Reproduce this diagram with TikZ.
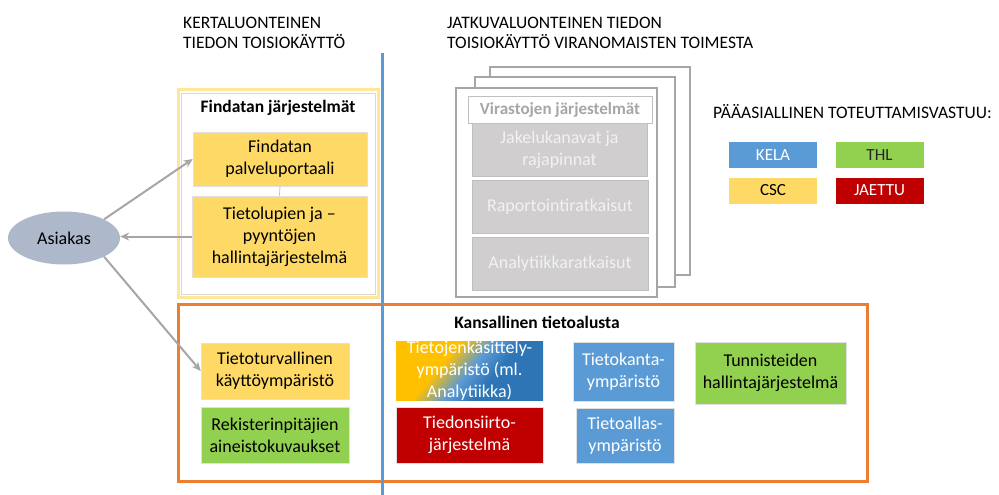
\documentclass[tikz,border=0pt]{standalone}
\usepackage{fontspec}
\setmainfont{Carlito}
\usetikzlibrary{shapes.geometric,arrows.meta}

\definecolor{cscyellow}{HTML}{FFD966}
\definecolor{thlgreen}{HTML}{92D050}
\definecolor{kelablue}{HTML}{5B9BD5}
\definecolor{jaettured}{HTML}{C00000}
\definecolor{frameorange}{HTML}{ED7D31}
\definecolor{arrowgray}{HTML}{A6A6A6}
\definecolor{clientblue}{HTML}{ADB9CA}
\definecolor{paleyellow}{HTML}{FFE699}
\definecolor{agencygray}{HTML}{D0CECE}
\definecolor{agencyline}{HTML}{BFBFBF}
\definecolor{darkblue}{HTML}{2E75B6}
\definecolor{goldyellow}{HTML}{FFC000}

% yellow-to-blue blend for the shared processing environment
\pgfdeclarehorizontalshading{yellowblue}{100bp}{%
  color(0bp)=(goldyellow); color(38bp)=(goldyellow);
  color(50bp)=(kelablue); color(60bp)=(darkblue); color(100bp)=(darkblue)}

\tikzset{
  base/.style={inner sep=0pt, align=center, font=\fontsize{18}{22}\selectfont,
               draw=black!12, line width=0.6pt},
  csc/.style={base, fill=cscyellow, text=black},
  thl/.style={base, fill=thlgreen, text=black},
  kela/.style={base, fill=kelablue, text=white},
  jaettu/.style={base, fill=jaettured, text=white},
  agency/.style={base, fill=agencygray, draw=agencyline, text=white!95!black},
  legend/.style={inner sep=0pt, align=center, font=\fontsize{17}{20}\selectfont,
                 minimum width=88pt, minimum height=26pt},
  heading/.style={inner sep=0pt, align=left, anchor=west,
                  font=\fontsize{17.5}{20}\selectfont},
  title/.style={inner sep=0pt, font=\fontsize{17.5}{20}\selectfont\bfseries},
  flow/.style={draw=arrowgray, line width=2pt, -{Stealth[length=9pt,width=8pt]}},
  sheet/.style={draw=arrowgray, line width=2.5pt, fill=white}
}

\begin{document}
\begin{tikzpicture}[x=1pt,y=-1pt]
\useasboundingbox (0,0) rectangle (999,495);

% column headings
\node[heading] (hleft) at (183,33) {KERTALUONTEINEN\\TIEDON TOISIOKÄYTTÖ};
\node[heading] (hright) at (447,33) {JATKUVALUONTEINEN TIEDON\\TOISIOKÄYTTÖ VIRANOMAISTEN TOIMESTA};

% Findata systems group
\draw[paleyellow, line width=3pt] (178,90) rectangle (378,297);
\draw[black!15, line width=0.7pt] (181,93) rectangle (375,294);
\node[title] (findtitle) at (278,108) {Findatan järjestelmät};
\node[csc, minimum width=174pt, minimum height=54pt] (portaali) at (280,159)
  {Findatan\\palveluportaali};
\node[csc, minimum width=175pt, minimum height=81pt] (luvat) at (279.5,236.5)
  {Tietolupien ja –\\pyyntöjen\\hallintajärjestelmä};
\draw[black!25, line width=0.8pt] (portaali.south) -- (luvat.north);

% agency systems, stacked sheets
\draw[sheet] (490,67) rectangle (690,275);
\draw[sheet] (475,77) rectangle (675,287);
\draw[sheet] (456,88) rectangle (657,297);
\node[inner sep=0pt, fill=white, draw=agencyline, line width=0.8pt,
      minimum width=184pt, minimum height=27pt, text=arrowgray,
      font=\fontsize{17}{20}\selectfont\bfseries] (virastot) at (560,109.5)
  {Virastojen järjestelmät};
\node[agency, minimum width=175pt, minimum height=53pt] (jakelu) at (559.5,149.5)
  {Jakelukanavat ja\\rajapinnat};
\node[agency, minimum width=176pt, minimum height=53pt] (raportti) at (560,206.5)
  {Raportointiratkaisut};
\node[agency, minimum width=176pt, minimum height=53pt] (analyysi) at (560,263.5)
  {Analytiikkaratkaisut};

% legend
\node[heading] (legtitle) at (713,112) {PÄÄASIALLINEN TOTEUTTAMISVASTUU:};
\node[legend, fill=kelablue, text=white] (lkela) at (773,155) {KELA};
\node[legend, fill=thlgreen, text=black!85] (lthl) at (879.5,155) {THL};
\node[legend, fill=cscyellow, text=black] (lcsc) at (773,190.5) {CSC};
\node[legend, fill=jaettured, text=white] (ljaettu) at (879.5,190.5) {JAETTU};

% national data platform
\draw[frameorange, line width=3pt] (178,304) rectangle (867,481);
\node[title] (ktitle) at (537,322) {Kansallinen tietoalusta};
\node[csc, minimum width=148pt, minimum height=56pt] (turva) at (275,371)
  {Tietoturvallinen\\käyttöympäristö};
\node[thl, minimum width=148pt, minimum height=56pt] (rekisteri) at (275,435)
  {Rekisterinpitäjien\\aineistokuvaukset};
\node[base, shading=yellowblue, shading angle=-40, text=white, draw=none,
      minimum width=147pt, minimum height=56pt] (kasittely) at (469.5,371)
  {Tietojenkäsittely-\\ympäristö (ml.\\Analytiikka)};
\node[jaettu, minimum width=147pt, minimum height=56pt] (siirto) at (469.5,435)
  {Tiedonsiirto-\\järjestelmä};
\node[kela, minimum width=101pt, minimum height=59pt] (kanta) at (623.5,371.5)
  {Tietokanta-\\ympäristö};
\node[kela, minimum width=98pt, minimum height=55pt] (allas) at (625,435.5)
  {Tietoallas-\\ympäristö};
\node[thl, minimum width=151pt, minimum height=62pt] (tunniste) at (770.5,373)
  {Tunnisteiden\\hallintajärjestelmä};

% divider between the two columns
\draw[kelablue, line width=3pt] (382,53) -- (382,495);

% client and its connections
\node[ellipse, fill=clientblue, inner sep=0pt, minimum width=112pt,
      minimum height=53pt, font=\fontsize{18}{22}\selectfont] (asiakas) at (64,238) {Asiakas};
\draw[flow] (asiakas.25) -- (portaali.west);
\draw[flow] (luvat.west) -- (luvat.west -| asiakas.east);
\draw[flow] (asiakas.-25) -- (turva.west);
\end{tikzpicture}
\end{document}
